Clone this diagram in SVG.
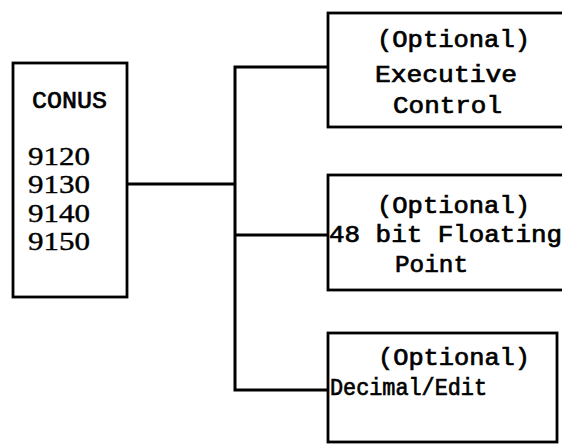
<svg xmlns="http://www.w3.org/2000/svg" width="562" height="445" viewBox="0 0 562 445">
<style>
.box{fill:#fff;stroke:#000;stroke-width:2.8}
.ln{fill:none;stroke:#000;stroke-width:3;stroke-linecap:square}
text{font-family:"Liberation Mono","DejaVu Sans Mono",monospace;font-size:24px;fill:#000;stroke:#000;stroke-width:0.7}
.big{font-family:"Liberation Serif","DejaVu Serif",serif;font-size:25px;stroke-width:0.4}
</style>
<rect width="562" height="445" fill="#fff"/>
<g id="connectors">
<path class="ln" d="M127,184 H235 M235,67 V390 M235,67 H328 M235,235 H328 M235,390 H328"/>
</g>
<g id="conus">
<rect class="box" x="13" y="63" width="114" height="234"/>
<text x="32" y="108" textLength="75" lengthAdjust="spacingAndGlyphs">CONUS</text>
<text class="big" x="28" y="165" textLength="62" lengthAdjust="spacingAndGlyphs">9120</text>
<text class="big" x="28" y="193" textLength="62" lengthAdjust="spacingAndGlyphs">9130</text>
<text class="big" x="28" y="222" textLength="62" lengthAdjust="spacingAndGlyphs">9140</text>
<text class="big" x="28" y="250" textLength="62" lengthAdjust="spacingAndGlyphs">9150</text>
</g>
<g id="exec">
<rect class="box" x="328" y="13" width="240" height="114"/>
<text x="377" y="47" textLength="153" lengthAdjust="spacingAndGlyphs">(Optional)</text>
<text x="375" y="82" textLength="142" lengthAdjust="spacingAndGlyphs">Executive</text>
<text x="393" y="113" textLength="109" lengthAdjust="spacingAndGlyphs">Control</text>
</g>
<g id="float">
<rect class="box" x="328" y="175" width="240" height="115"/>
<text x="377" y="213" textLength="153" lengthAdjust="spacingAndGlyphs">(Optional)</text>
<text x="329" y="242" textLength="233" lengthAdjust="spacingAndGlyphs">48 bit Floating</text>
<text x="395" y="272" textLength="73" lengthAdjust="spacingAndGlyphs">Point</text>
</g>
<g id="decimal">
<rect class="box" x="328" y="333" width="229" height="109"/>
<text x="378" y="365" textLength="152" lengthAdjust="spacingAndGlyphs">(Optional)</text>
<text x="330" y="395" textLength="157" lengthAdjust="spacingAndGlyphs">Decimal/Edit</text>
</g>
</svg>
